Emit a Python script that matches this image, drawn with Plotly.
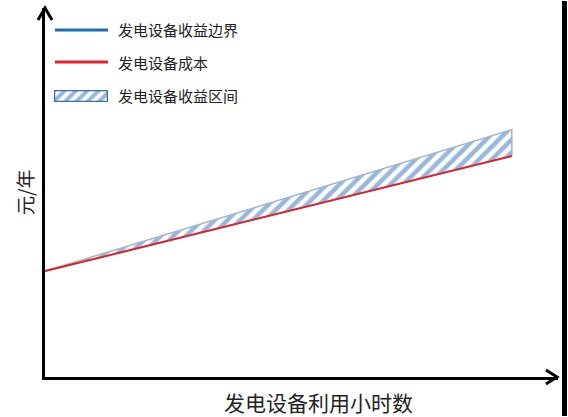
import plotly.graph_objects as go

# 发电设备利用小时数 (相对刻度) 与 元/年 (相对刻度)
hours = [0, 91]
cost = [28.7, 59.9]       # 发电设备成本
revenue = [28.7, 67.0]    # 发电设备收益边界

names = ["发电设备收益边界", "发电设备成本", "发电设备收益区间"]
x_title = "发电设备利用小时数"
y_title = "元/年"

font_cjk = "Noto Sans CJK SC"
blue = "#1f6db5"
red = "#e0202a"
hatch = dict(shape="/", fgcolor="#2f70b8", bgcolor="white", size=9, solidity=0.5)

W, H = 568, 417
L, R, T, B = 45, 10, 8, 40
pw, ph = W - L - R, H - T - B


def px(x):
    return (x - L) / pw


def py(y):
    return (H - B - y) / ph


fig = go.Figure()

# 收益区间 (斜线填充)
fig.add_trace(go.Scatter(
    x=hours + hours[::-1],
    y=revenue + cost[::-1],
    mode="lines",
    fill="toself",
    fillpattern=hatch,
    line=dict(color="#a3b5c9", width=1.5),
    showlegend=False,
    hoverinfo="skip",
))

# 成本线
fig.add_trace(go.Scatter(
    x=hours, y=cost, mode="lines",
    line=dict(color=red, width=2),
    showlegend=False,
))

# 图例中的斜线方块 (小坐标系)
fig.add_trace(go.Scatter(
    x=[0, 1, 1, 0, 0], y=[0, 0, 1, 1, 0],
    xaxis="x2", yaxis="y2", mode="lines",
    fill="toself", fillpattern=dict(hatch, size=8),
    line=dict(color="#3d6f9f", width=2.5),
    showlegend=False, hoverinfo="skip",
))

legend_y = [30, 62, 96]

fig.update_layout(
    width=W, height=H,
    margin=dict(l=L, r=R, t=T, b=B),
    paper_bgcolor="white", plot_bgcolor="white",
    font=dict(family=font_cjk, color="#222222"),
    showlegend=False,
    xaxis=dict(range=[0, 100], showline=True, linecolor="black", linewidth=3,
               showgrid=False, zeroline=False, showticklabels=False, ticks=""),
    yaxis=dict(range=[0, 100], showline=True, linecolor="black", linewidth=3,
               showgrid=False, zeroline=False, showticklabels=False, ticks=""),
    xaxis2=dict(domain=[px(54), px(108)], range=[0, 1], visible=False,
                anchor="y2", fixedrange=True),
    yaxis2=dict(domain=[py(102), py(90)], range=[0, 1], visible=False,
                anchor="x2", fixedrange=True),
    annotations=[
        dict(text=x_title, xref="paper", yref="paper", x=px(318), y=py(402),
             xanchor="center", yanchor="middle", showarrow=False,
             font=dict(size=21)),
        dict(text=y_title, xref="paper", yref="paper", x=px(25), y=py(193),
             xanchor="center", yanchor="middle", textangle=-90,
             showarrow=False, font=dict(size=19)),
    ] + [
        dict(text=n, xref="paper", yref="paper", x=px(116), y=py(yy),
             xanchor="left", yanchor="middle", showarrow=False,
             font=dict(size=15))
        for n, yy in zip(names, legend_y)
    ],
    shapes=[
        # 图例线
        dict(type="line", xref="paper", yref="paper",
             x0=px(55), x1=px(108), y0=py(legend_y[0]), y1=py(legend_y[0]),
             line=dict(color=blue, width=3)),
        dict(type="line", xref="paper", yref="paper",
             x0=px(55), x1=px(108), y0=py(legend_y[1]), y1=py(legend_y[1]),
             line=dict(color=red, width=3)),
        # 坐标轴箭头
        dict(type="path", xref="paper", yref="paper",
             path=f"M {px(546)} {py(370)} L {px(557)} {py(377)} L {px(546)} {py(384)}",
             line=dict(color="black", width=3)),
        dict(type="path", xref="paper", yref="paper",
             path=f"M {px(38)} {py(20)} L {px(45)} {py(8)} L {px(52)} {py(20)}",
             line=dict(color="black", width=3)),
        # 右侧黑边
        dict(type="rect", xref="paper", yref="paper",
             x0=px(562), x1=px(567), y0=py(416), y1=py(1),
             fillcolor="black", line=dict(width=0)),
    ],
)

fig.write_html("out.html", config={"displayModeBar": False},
               post_script="document.body.style.margin='0';")
